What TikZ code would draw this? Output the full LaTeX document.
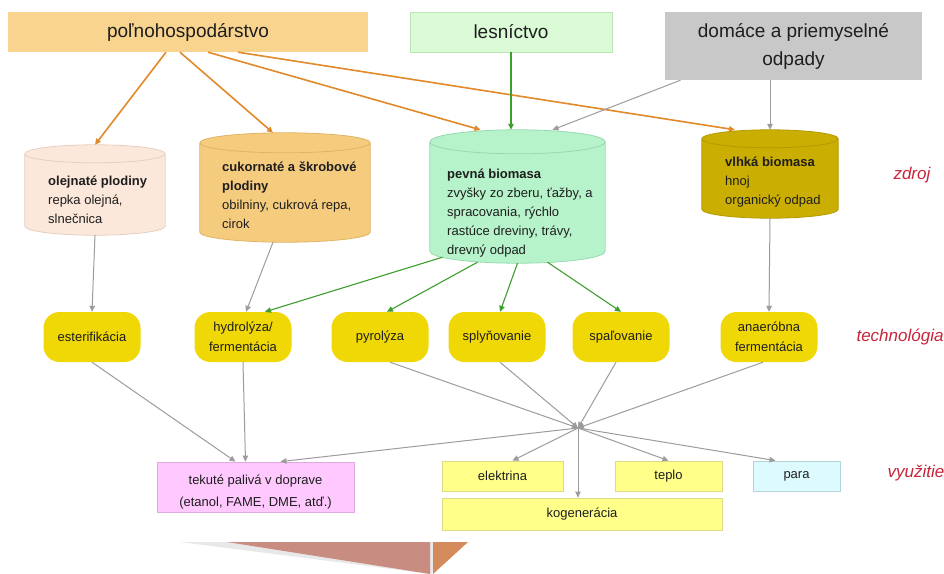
\documentclass[tikz,border=0pt]{standalone}
\usepackage{fontspec}
\setmainfont{Liberation Sans}
\usepackage{tikz}
\usetikzlibrary{shapes.geometric, arrows.meta, positioning, calc}
\definecolor{agriFill}{HTML}{F8D48E}
\definecolor{forestFill}{HTML}{DAFBD6}
\definecolor{forestEdge}{HTML}{B9E6B4}
\definecolor{wasteFill}{HTML}{C8C8C8}
\definecolor{oilFill}{HTML}{FCE8DA}
\definecolor{oilEdge}{HTML}{E6CFBF}
\definecolor{sugarFill}{HTML}{F5CB7E}
\definecolor{sugarEdge}{HTML}{E0B466}
\definecolor{solidFill}{HTML}{B6F3CA}
\definecolor{solidEdge}{HTML}{96DAB0}
\definecolor{wetFill}{HTML}{CBAE02}
\definecolor{wetEdge}{HTML}{B39A00}
\definecolor{techYellow}{HTML}{F0D806}
\definecolor{outYellow}{HTML}{FFFF8A}
\definecolor{outEdge}{HTML}{DCDC86}
\definecolor{fuelFill}{HTML}{FFC9FF}
\definecolor{fuelEdge}{HTML}{E2A8E2}
\definecolor{steamFill}{HTML}{DDFBFF}
\definecolor{steamEdge}{HTML}{B5D3DA}
\definecolor{agriLine}{HTML}{E2892A}
\definecolor{forestLine}{HTML}{3E9E2E}
\definecolor{grayLine}{HTML}{9C9C9C}
\definecolor{tierRed}{HTML}{C8243A}
\definecolor{inkDark}{HTML}{1E1E1E}
\definecolor{pieGray}{HTML}{E8E8EA}
\definecolor{pieBrown}{HTML}{C98C80}
\definecolor{pieOrange}{HTML}{D38B5C}

% cylinder drawn round a named node: node, colour prefix, radius of the end ellipse
\newcommand{\drum}[3]{%
  \path[fill=#2Fill, draw=#2Edge, line width=0.8pt]
    let \p1=(#1.north west), \p2=(#1.south east), \n1={(\x2-\x1)/2} in
    (\x1,{\y1-#3}) -- (\x1,{\y2+#3})
      arc[start angle=180, end angle=360, x radius=\n1, y radius=#3]
      -- (\x2,{\y1-#3})
      arc[start angle=0, end angle=180, x radius=\n1, y radius=#3]
      -- cycle
    (\x1,{\y1-#3}) arc[start angle=180, end angle=360, x radius=\n1, y radius=#3];
}

\begin{document}
\begin{tikzpicture}[x=1pt, y=-1pt,
  every node/.style={text=inkDark},
  srcbox/.style={rectangle, inner sep=0pt, align=center, font=\fontsize{19}{28}\selectfont},
  drumbox/.style={rectangle, inner sep=0pt},
  drumtext/.style={anchor=north west, inner sep=0pt, align=left, font=\fontsize{13}{19}\selectfont},
  techbox/.style={rectangle, rounded corners=16pt, fill=techYellow, minimum width=97pt,
    minimum height=50pt, inner sep=1pt, align=center, font=\fontsize{13}{20}\selectfont},
  outbox/.style={rectangle, fill=outYellow, draw=outEdge, line width=0.8pt, minimum height=30pt,
    inner sep=0pt, align=center, font=\fontsize{13}{22}\selectfont},
  tierlabel/.style={anchor=west, text=tierRed, font=\fontsize{17}{20}\selectfont\itshape},
  arrtip/.style={-{Triangle[length=6pt, width=5.5pt]}},
  agriarrow/.style={arrtip, draw=agriLine, line width=1.6pt},
  forestarrow/.style={arrtip, draw=forestLine, line width=1.1pt},
  grayarrow/.style={arrtip, draw=grayLine, line width=1pt}]

  \useasboundingbox (0,0) rectangle (944,573);
  \fill[white] (0,0) rectangle (944,573);

  % pie chart peeking in at the bottom
  \fill[pieGray] (180,542) -- (468,542) -- (431,574) -- cycle;
  \fill[pieBrown] (227,542) -- (430,542) -- (430,574) -- cycle;
  \fill[pieOrange] (433,542) -- (468,542) -- (433,574) -- cycle;

  % sources
  \node[srcbox, fill=agriFill, minimum width=360pt, minimum height=40pt] (pole) at (188,32) {poľnohospodárstvo};
  \node[srcbox, fill=forestFill, draw=forestEdge, line width=0.8pt, minimum width=202pt, minimum height=40pt] (lesn) at (511,32) {lesníctvo};
  \node[srcbox, fill=wasteFill, minimum width=257pt, minimum height=68pt] (odpad) at (793.5,46) {domáce a priemyselné\\odpady};

  % biomass
  \node[drumbox, minimum width=140pt, minimum height=90pt] (olej) at (95,190) {};
  \node[drumbox, minimum width=170pt, minimum height=109pt] (cukor) at (285,187.5) {};
  \node[drumbox, minimum width=175pt, minimum height=133pt] (pevna) at (517.5,196.5) {};
  \node[drumbox, minimum width=136pt, minimum height=88pt] (vlhka) at (770,174) {};
  \drum{olej}{oil}{9pt}
  \drum{cukor}{sugar}{10pt}
  \drum{pevna}{solid}{12pt}
  \drum{vlhka}{wet}{9pt}

  \node[drumtext] (olejT) at (48,176) {\textbf{olejnaté plodiny}\\repka olejná,\\slnečnica};
  \node[drumtext] (cukorT) at (222,162) {\textbf{cukornaté a škrobové}\\\textbf{plodiny}\\obilniny, cukrová repa,\\cirok};
  \node[drumtext] (pevnaT) at (447,169) {\textbf{pevná biomasa}\\zvyšky zo zberu, ťažby, a\\spracovania, rýchlo\\rastúce dreviny, trávy,\\drevný odpad};
  \node[drumtext] (vlhkaT) at (725,157) {\textbf{vlhká biomasa}\\hnoj\\organický odpad};

  % technologies
  \foreach \nm/\x/\txt in {ester/92/esterifikácia, hydro/243/{hydrolýza/\\fermentácia},
      pyro/380/pyrolýza, sply/497/splyňovanie, spal/621/spaľovanie, anaer/769/{anaeróbna\\fermentácia}}
    \node[techbox] (\nm) at (\x,337) {\txt};

  % uses
  \node[outbox, fill=fuelFill, draw=fuelEdge, minimum width=197pt, minimum height=50pt] (palivo) at (255.5,487) {\rule{0pt}{19pt}tekuté palivá v doprave\\(etanol, FAME, DME, atď.)};
  \node[outbox, minimum width=121pt] (elek) at (502.5,476) {elektrina};
  \node[outbox, minimum width=107pt] (teplo) at (668.5,476) {teplo};
  \node[outbox, fill=steamFill, draw=steamEdge, minimum width=87pt] (para) at (796.5,476) {para};
  \node[outbox, minimum width=280pt, minimum height=32pt] (kogen) at (582,514) {kogenerácia};
  \coordinate (hub) at (578,428);

  \node[tierlabel] (zdroj) at (890,175) {zdroj};
  \node[tierlabel] (techn) at (853,337) {technológia};
  \node[tierlabel] (vyuz) at (884,473) {využitie};

  % arrows
  \draw[agriarrow] ([xshift=-22pt]pole.south) -- (olej.north);
  \draw[agriarrow] ([xshift=-8pt]pole.south) -- ([xshift=-12pt]cukor.north);
  \draw[agriarrow] ([xshift=20pt]pole.south) -- ([xshift=-37pt]pevna.north);
  \draw[agriarrow] ([xshift=50pt]pole.south) -- ([xshift=-35pt]vlhka.north);
  \draw[forestarrow] (lesn.south) -- (lesn.south |- pevna.north);
  \draw[grayarrow] ([xshift=-113pt]odpad.south) -- ([xshift=35pt]pevna.north);
  \draw[grayarrow] (vlhka.north |- odpad.south) -- (vlhka.north);

  \draw[grayarrow] (olej.south) -- (ester.north);
  \draw[grayarrow] ([xshift=-12pt]cukor.south) -- ([xshift=3pt]hydro.north);
  \draw[grayarrow] (vlhka.south) -- (anaer.north);
  \draw[forestarrow] ([xshift=-75pt, yshift=6pt]pevna.south) -- ([xshift=22pt]hydro.north);
  \draw[forestarrow] ([xshift=-40pt, yshift=1pt]pevna.south) -- ([xshift=7pt]pyro.north);
  \draw[forestarrow] (pevna.south) -- ([xshift=3pt]sply.north);
  \draw[forestarrow] ([xshift=30pt, yshift=1pt]pevna.south) -- (spal.north);

  \draw[grayarrow] (ester.south) -- ([xshift=-20pt]palivo.north);
  \draw[grayarrow] (hydro.south) -- ([xshift=-10pt]palivo.north);
  \foreach \src/\dx in {pyro/10, sply/3, spal/-5, anaer/-6}
    \draw[grayarrow] ([xshift=\dx pt]\src.south) -- (hub);
  \draw[grayarrow] (hub) -- ([xshift=25pt]palivo.north);
  \draw[grayarrow] (hub) -- ([xshift=10pt]elek.north);
  \draw[grayarrow] (hub) -- (hub |- kogen.north);
  \draw[grayarrow] (hub) -- (teplo.north);
  \draw[grayarrow] (hub) -- ([xshift=-21pt]para.north);
\end{tikzpicture}
\end{document}
